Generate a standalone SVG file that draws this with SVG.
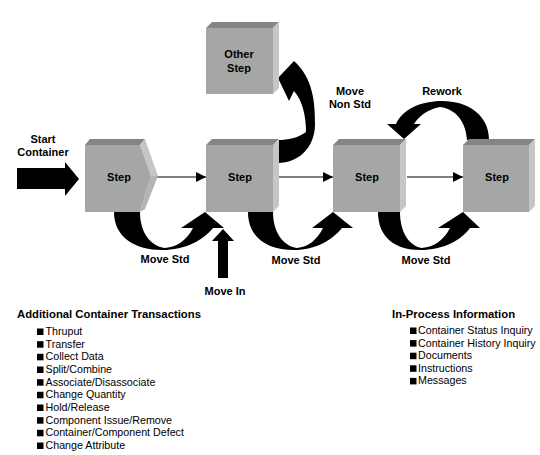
<svg xmlns="http://www.w3.org/2000/svg" width="540" height="455" viewBox="0 0 540 455">
<defs>
<style>
.front{fill:#a6a6a6}
.top{fill:#858585}
.side{fill:#c6c6c6}
.side2{fill:#b4b4b4}
.lbl{font-family:"Liberation Sans",Arial,sans-serif;font-size:11px;font-weight:bold;fill:#000}
.hd{font-family:"Liberation Sans",Arial,sans-serif;font-size:11.3px;font-weight:bold;fill:#000}
.it{font-family:"Liberation Sans",Arial,sans-serif;font-size:10.7px;fill:#000}
.mid{text-anchor:middle}
.big{fill:#000}
.thin{stroke:#000;stroke-width:1.2;fill:none}
</style>
<marker id="ah" viewBox="0 0 10 10" refX="10" refY="5" markerWidth="10" markerHeight="10" markerUnits="userSpaceOnUse" orient="auto">
<path d="M0,0 L10,5 L0,10 Z" fill="#000"/>
</marker>
</defs>
<rect width="540" height="455" fill="#fff"/>

<g id="connectors">
<line class="thin" x1="156" y1="177" x2="206" y2="177" marker-end="url(#ah)"/>
<line class="thin" x1="279" y1="177" x2="333" y2="177" marker-end="url(#ah)"/>
<line class="thin" x1="407" y1="177" x2="463" y2="177" marker-end="url(#ah)"/>
<path class="big" d="M17,168 L65,168 L65,162 L79,179 L65,196 L65,189 L17,189 Z"/>
<path class="big" d="M218,278 L218,241 L212,241 L223,229 L234,241 L228,241 L228,278 Z"/>
<path class="big" d="M114,212 C114,238 136,250 162,250 C186,250 203,240 213,228 L224,228 L205,212 L181,228 L193,228 C187,240 177,247 165,248 C150,246 140,232 140,212 Z"/>
<path class="big" d="M248,212 C248,238 268,250 294,250 C316,250 332,240 342,228 L353,228 L333,212 L312,228 L323,228 C317,240 308,247 297,248 C283,246 273,232 273,212 Z"/>
<path class="big" d="M378,212 C378,238 396,250 420,250 C444,250 461,240 470,228 L480,228 L463,212 L438,228 L450,228 C444,240 434,247 422,248 C409,246 400,232 400,212 Z"/>
<path class="big" d="M278,163 C298,163 315,148 315,124 C315,102 313,78 294,61 L278,78 L289,101 L294,91 C302,100 306,115 306,132 C298,138 288,140 278,140 Z"/>
<path class="big" d="M467,140 C466,122 456,109 440,107 C428,109 419,116 414,124 L421,124 L404,139 L387,124 L396,124 C402,110 420,101 442,101 C468,101 489,115 489,140 Z"/>
</g>

<g id="step1">
<polygon class="top" points="85,145 90,139 145,139 140,145"/>
<polygon class="side" points="140,145 145,139 158,176 151,176"/>
<polygon class="side2" points="151,176 158,176 145,209 140,212"/>
<polygon class="front" points="85,145 140,145 151,176 140,212 85,212"/>
<text class="lbl mid" x="119" y="181">Step</text>
</g>

<g id="step2">
<polygon class="top" points="206,145 212,139 279,139 273,145"/>
<polygon class="side" points="273,145 279,139 279,206 273,212"/>
<rect class="front" x="206" y="145" width="67" height="67"/>
<text class="lbl mid" x="240" y="181">Step</text>
</g>

<g id="step3">
<polygon class="top" points="333,145 339,139 406,139 400,145"/>
<polygon class="side" points="400,145 406,139 406,206 400,212"/>
<rect class="front" x="333" y="145" width="67" height="67"/>
<text class="lbl mid" x="367" y="181">Step</text>
</g>

<g id="step4">
<polygon class="top" points="463,145 469,139 535,139 529,145"/>
<polygon class="side" points="529,145 535,139 535,206 529,212"/>
<rect class="front" x="463" y="145" width="66" height="67"/>
<text class="lbl mid" x="497" y="181">Step</text>
</g>

<g id="other-step">
<polygon class="top" points="206,28 212,22 279,22 273,28"/>
<polygon class="side" points="273,28 279,22 279,88 273,94"/>
<rect class="front" x="206" y="28" width="67" height="66"/>
<text class="lbl mid" x="239" y="58">Other</text>
<text class="lbl mid" x="239" y="72">Step</text>
</g>

<g id="labels">
<text class="lbl mid" x="43" y="143">Start</text>
<text class="lbl mid" x="43" y="156">Container</text>
<text class="lbl mid" x="350" y="95">Move</text>
<text class="lbl mid" x="350" y="108">Non Std</text>
<text class="lbl mid" x="442" y="95">Rework</text>
<text class="lbl mid" x="165" y="263">Move Std</text>
<text class="lbl mid" x="296" y="264">Move Std</text>
<text class="lbl mid" x="426" y="264">Move Std</text>
<text class="lbl mid" x="225" y="295">Move In</text>
</g>

<g id="additional-transactions">
<text class="hd" x="17" y="318">Additional Container Transactions</text>
<g class="big">
<rect x="37" y="328.5" width="6.5" height="6.5"/>
<rect x="37" y="341.2" width="6.5" height="6.5"/>
<rect x="37" y="353.8" width="6.5" height="6.5"/>
<rect x="37" y="366.5" width="6.5" height="6.5"/>
<rect x="37" y="379.2" width="6.5" height="6.5"/>
<rect x="37" y="391.8" width="6.5" height="6.5"/>
<rect x="37" y="404.5" width="6.5" height="6.5"/>
<rect x="37" y="417.2" width="6.5" height="6.5"/>
<rect x="37" y="429.8" width="6.5" height="6.5"/>
<rect x="37" y="442.5" width="6.5" height="6.5"/>
</g>
<text class="it" x="45.5" y="335">Thruput</text>
<text class="it" x="45.5" y="347.7">Transfer</text>
<text class="it" x="45.5" y="360.3">Collect Data</text>
<text class="it" x="45.5" y="373">Split/Combine</text>
<text class="it" x="45.5" y="385.7">Associate/Disassociate</text>
<text class="it" x="45.5" y="398.3">Change Quantity</text>
<text class="it" x="45.5" y="411">Hold/Release</text>
<text class="it" x="45.5" y="423.7">Component Issue/Remove</text>
<text class="it" x="45.5" y="436.3">Container/Component Defect</text>
<text class="it" x="45.5" y="449">Change Attribute</text>
</g>

<g id="in-process-information">
<text class="hd" x="392" y="318">In-Process Information</text>
<g class="big">
<rect x="410" y="327.5" width="6.5" height="6.5"/>
<rect x="410" y="340.1" width="6.5" height="6.5"/>
<rect x="410" y="352.7" width="6.5" height="6.5"/>
<rect x="410" y="365.3" width="6.5" height="6.5"/>
<rect x="410" y="377.9" width="6.5" height="6.5"/>
</g>
<text class="it" x="418" y="334">Container Status Inquiry</text>
<text class="it" x="418" y="346.6">Container History Inquiry</text>
<text class="it" x="418" y="359.2">Documents</text>
<text class="it" x="418" y="371.8">Instructions</text>
<text class="it" x="418" y="384.4">Messages</text>
</g>
</svg>
